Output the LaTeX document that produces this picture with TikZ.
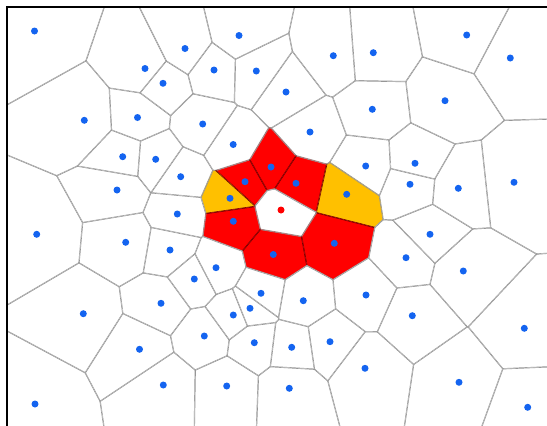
\documentclass[tikz,border=0pt]{standalone}
\usetikzlibrary{calc}
\definecolor{dotblue}{HTML}{1464F0}
\definecolor{edgegray}{HTML}{969696}
\colorlet{cell0}{white}
\colorlet{cell1}{red}
\definecolor{cell2}{HTML}{FFC000}
\colorlet{cell3}{white}
\colorlet{dot0}{dotblue}
\colorlet{dot1}{dotblue}
\colorlet{dot2}{dotblue}
\colorlet{dot3}{red}
\colorlet{edge0}{edgegray}
\colorlet{edge1}{red!45!black}
\tikzset{
  seed/.style={circle, fill=dot#1, inner sep=0pt, minimum size=7pt},
  cellside/.style={draw=edge#1, line width=1.2pt},
  frameline/.style={draw=black, line width=1.3pt},
}
% seeds: x/y/kind (0 plain, 1 red cell, 2 yellow cell, 3 query point)
\newcommand\seedlist{%
34.5/31/0, 185/48.5/0, 239/35.5/0, 145/68.5/0, 163/83.3/0, 214/70/0,%
256.3/71/0, 333.3/55.7/0, 373.3/52.7/0, 466.7/35/0, 510.3/58/0,%
445/100.7/0, 286/92/0, 372.3/109.3/0, 84.3/120.3/0, 137.5/117.5/0,%
202.7/124/0, 233.2/144.5/0, 310/132/0, 122.7/156.7/0, 155.7/159.3/0,%
415/163.3/0, 180.7/176.7/0, 365.7/166/0, 117/190/0, 271/167/1,%
245/181.7/1, 296/183.3/1, 410/184.3/0, 458.3/188.3/0, 514/182.3/0,%
230/198.3/2, 346.7/194.3/2, 281/210/3, 177.3/214/0, 233.3/221.3/1,%
36.7/234.3/0, 125.7/242.3/0, 430/234.3/0, 170/250/0, 334.3/243.3/1,%
273.3/254.5/1, 216/267.7/0, 406/257.7/0, 463.3/271/0, 194.3/279/0,%
261/293.3/0, 303.3/300.7/0, 161/303.3/0, 366/295/0, 412.3/315.7/0,%
83.3/313.7/0, 250/308.3/0, 233.3/315/0, 204.3/336/0, 254.3/342.7/0,%
291.7/347.3/0, 330/341.7/0, 524.3/328.3/0, 139.5/349.3/0, 163.3/385/0,%
226.7/386/0, 289.3/388.3/0, 365/368.3/0, 459/382.3/0, 35/404/0,%
527.7/407.3/0}
\begin{document}
\begin{tikzpicture}[x=1pt, y=-1pt]
\useasboundingbox (0,0) rectangle (547,426);

% -------------------- cells --------------------
\begin{scope}
  \clip (7,7) rectangle (547,426);
  \foreach \xa/\ya/\ca [count=\i] in \seedlist {
    \begin{scope}
      % keep the side of every bisector that faces this seed
      \foreach \xb/\yb/\cb [count=\j] in \seedlist {
        \ifnum\i=\j\relax\else
          \pgfmathsetmacro\mx{(\xa+\xb)/2}
          \pgfmathsetmacro\my{(\ya+\yb)/2}
          \pgfmathsetmacro\ang{atan2(\ya-\yb,\xb-\xa)}
          \clip[shift={(\mx,\my)}, rotate=\ang] (-1500,-1500) rectangle (0,1500);
        \fi
      }
      \fill[cell\ca] (0,0) rectangle (547,426);
      \foreach \xb/\yb/\cb [count=\j] in \seedlist {
        \ifnum\i=\j\relax\else
          \pgfmathsetmacro\mx{(\xa+\xb)/2}
          \pgfmathsetmacro\my{(\ya+\yb)/2}
          \pgfmathsetmacro\ang{atan2(\ya-\yb,\xb-\xa)}
          \pgfmathtruncatemacro\both{(\ca>0)*(\ca<3)*(\cb>0)*(\cb<3)}
          \draw[cellside=\both, shift={(\mx,\my)}, rotate=\ang] (0,-1500) -- (0,1500);
        \fi
      }
    \end{scope}
  }
\end{scope}

% -------------------- frame --------------------
\coordinate (frameBL) at (7,426);
\coordinate (frameTL) at (7,7);
\coordinate (frameTR) at (547,7);
\draw[frameline] (frameBL) -- (frameTL) -- (frameTR);

% -------------------- seeds --------------------
\foreach \x/\y/\c [count=\i] in \seedlist
  \node[seed=\c] (s\i) at (\x,\y) {};

\end{tikzpicture}
\end{document}
